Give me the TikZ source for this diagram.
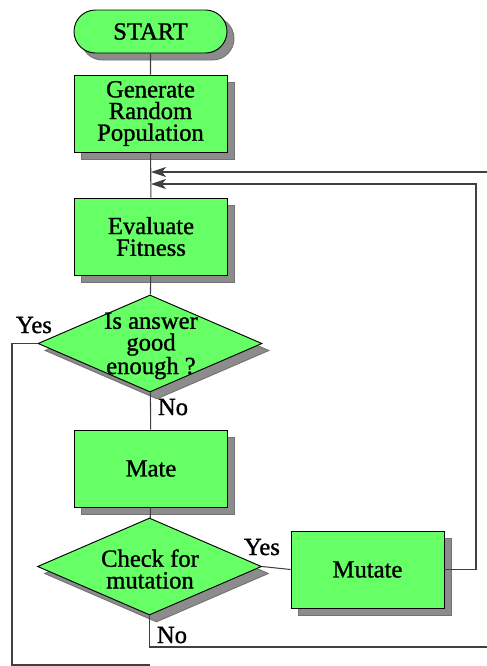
\documentclass[tikz,border=0pt]{standalone}
\usepackage{fontspec}
\setmainfont{Liberation Serif}
\newfontfamily\flowfont[FakeBold=1.2]{Liberation Serif}
\usetikzlibrary{shapes.geometric,shapes.misc,shadows,arrows.meta}
\definecolor{boxgreen}{HTML}{66FF66}
\definecolor{shadowgray}{HTML}{8C8C8C}
\definecolor{linegray}{HTML}{404040}

\begin{document}
\begin{tikzpicture}[x=0.03cm,y=-0.03cm,
    txt/.style={font=\flowfont\fontsize{21}{18.5}\selectfont},
    shade box/.style={drop shadow={shadow xshift=0.21cm,shadow yshift=-0.21cm,
        fill=shadowgray,draw=black!55,opacity=1}},
    stepbox/.style={draw,line width=0.8pt,fill=boxgreen,align=center,txt,
        minimum width=4.59cm,minimum height=2.31cm,inner sep=0pt,shade box},
    startbox/.style={draw,line width=0.8pt,fill=boxgreen,txt,rounded rectangle,
        minimum width=4.59cm,minimum height=1.29cm,inner sep=0pt,shade box},
    decision/.style={draw,line width=0.8pt,fill=boxgreen,diamond,
        minimum width=6.72cm,minimum height=2.91cm,inner sep=0pt,shade box},
    dectext/.style={txt,align=center,inner sep=0pt},
    lbl/.style={txt,inner sep=0pt,anchor=base},
    link/.style={draw=linegray,line width=0.9pt},
    back/.style={link,-{Stealth[length=0.45cm,width=0.3cm,inset=0.12cm]}}]
    \useasboundingbox (0,0) rectangle (487,666);
    % main column
    \node[startbox] (start) at (150.5,31.5) {START};
    \node[stepbox] (gen) at (150.5,113.5) {Generate\\Random\\Population};
    \node[stepbox] (eval) at (151,236.5) {Evaluate\\Fitness};
    \node[decision] (good) at (150,343.5) {};
    \node[dectext] at (151,346) {Is answer\\good\\enough ?};
    \node[stepbox] (mate) at (151,468.5) {Mate};
    \node[decision] (check) at (149.5,566.5) {};
    \node[dectext] at (150,569) {Check for\\mutation};
    \node[stepbox] (mutate) at (367.5,569.5) {Mutate};
    % labels
    \node[lbl] (yes1) at (34,333) {Yes};
    \node[lbl] (no1) at (173,415) {No};
    \node[lbl] (yes2) at (262,555) {Yes};
    \node[lbl] (no2) at (172,643) {No};
    % loop ends
    \coordinate (in1) at (151,172);
    \coordinate (in2) at (151,184);
    \coordinate (out1) at (487,172);
    \coordinate (out2) at (487,647);
    \coordinate (done) at (150,665);
    % connectors
    \path[link] (start) -- (gen);
    \path[link] (gen) -- (eval);
    \path[link] (eval) -- (good);
    \path[link] (good) -- (mate);
    \path[link] (mate) -- (check);
    \path[link] (check.east) -- (mutate.west);
    \path[link] (good.west) -| (12,665) -- (done);
    \path[link] (check.south) |- (out2);
    \path[back] (out1) -- (in1);
    \path[back] (mutate.east) -| (476,184) -- (in2);
\end{tikzpicture}
\end{document}
